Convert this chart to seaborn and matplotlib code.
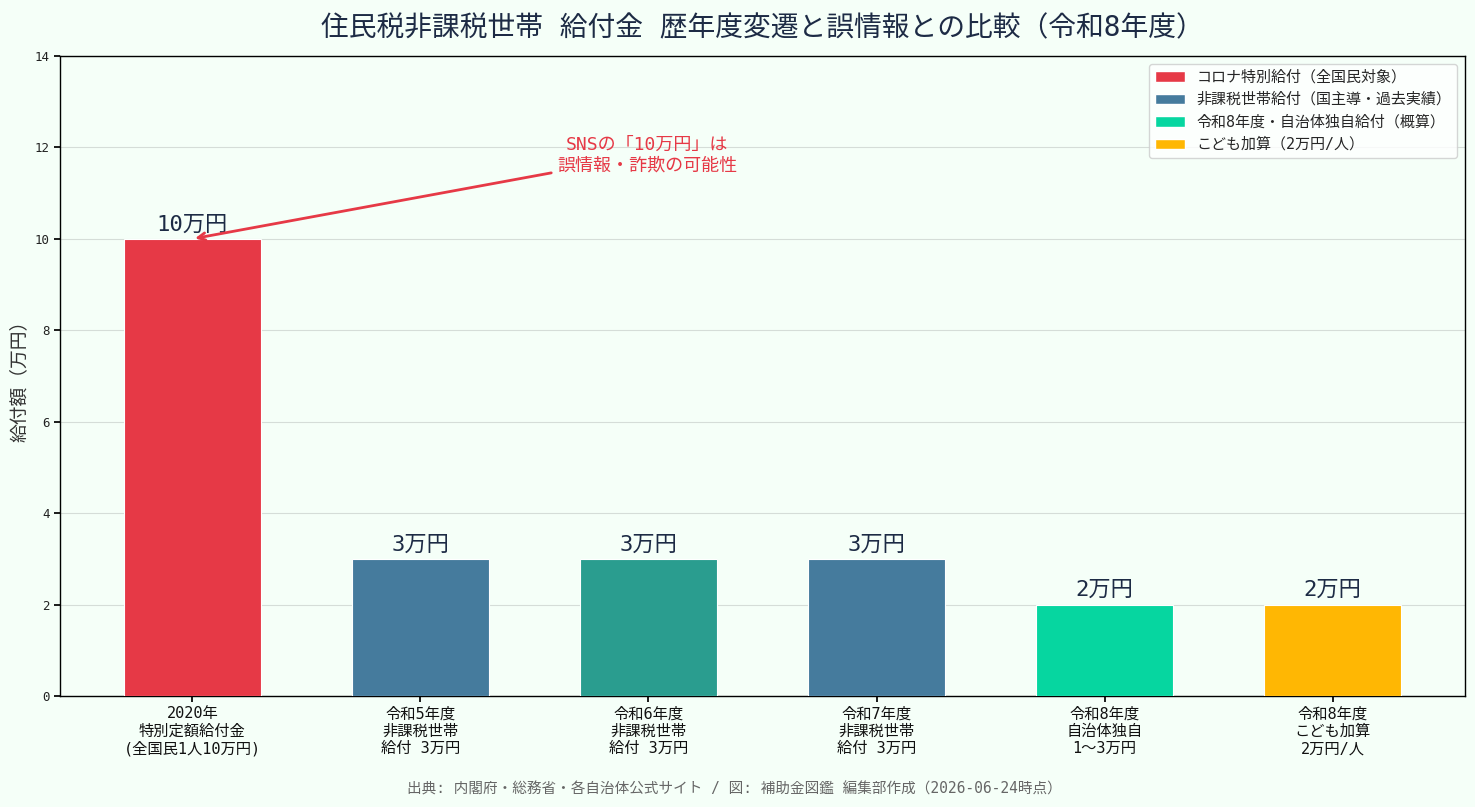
import matplotlib
matplotlib.use("Agg")
import matplotlib.pyplot as plt
import seaborn as sns
import pandas as pd
from matplotlib.patches import Patch

categories = [
    "2020年\n特別定額給付金\n(全国民1人10万円)",
    "令和5年度\n非課税世帯\n給付 3万円",
    "令和6年度\n非課税世帯\n給付 3万円",
    "令和7年度\n非課税世帯\n給付 3万円",
    "令和8年度\n自治体独自\n1〜3万円",
    "令和8年度\nこども加算\n2万円/人",
]
values = [10, 3, 3, 3, 2, 2]
value_labels = ["10万円", "3万円", "3万円", "3万円", "2万円", "2万円"]
bar_colors = ["#E63946", "#457B9D", "#2A9D8F", "#457B9D", "#06D6A0", "#FFB703"]
legend_labels = [
    "コロナ特別給付（全国民対象）",
    "非課税世帯給付（国主導・過去実績）",
    "令和8年度・自治体独自給付（概算）",
    "こども加算（2万円/人）",
]
legend_colors = ["#E63946", "#457B9D", "#06D6A0", "#FFB703"]

BG = "#F5FFF8"
DARK = "#1D2B45"

sns.set_theme(style="white")
plt.rcParams["font.family"] = ["DejaVu Sans Mono", "Noto Sans CJK JP", "DejaVu Sans"]

df = pd.DataFrame({"cat": categories, "val": values})

fig, ax = plt.subplots(figsize=(14.75, 8.07), dpi=100)
fig.patch.set_facecolor(BG)
ax.set_facecolor(BG)

sns.barplot(data=df, x="cat", y="val", hue="cat", palette=bar_colors,
            width=0.6, legend=False, ax=ax, saturation=1, zorder=3,
            edgecolor="white", linewidth=0.8)

for i, (v, lab) in enumerate(zip(values, value_labels)):
    ax.text(i, v + 0.1, lab, ha="center", va="bottom", fontsize=16, color=DARK, zorder=5)

ax.set_xlim(-0.58, len(values) - 1 + 0.58)
ax.set_ylim(0, 14)
ax.set_yticks(range(0, 15, 2))
ax.yaxis.grid(True, color="#D5DDD8", linewidth=0.8, zorder=0)
ax.set_axisbelow(True)
for s in ax.spines.values():
    s.set_color("black")
    s.set_linewidth(1.0)
ax.tick_params(axis="y", labelsize=9, left=True, length=4, color="black", labelcolor="#222222")
ax.tick_params(axis="x", labelsize=11, bottom=True, length=4, color="black", labelcolor="#111111")
ax.set_xlabel("")
ax.set_ylabel("給付額（万円）", fontsize=13.5, color="#333333")

ax.annotate("SNSの「10万円」は\n誤情報・詐欺の可能性", xy=(0, 10.0), xytext=(1.995, 11.83),
            ha="center", va="center", fontsize=13, color="#E63946",
            arrowprops=dict(arrowstyle="->", color="#E63946", lw=2), zorder=6)

handles = [Patch(facecolor=c, label=l) for c, l in zip(legend_colors, legend_labels)]
leg = ax.legend(handles=handles, loc="upper right", fontsize=10.8, frameon=True,
                facecolor="white", edgecolor="#CCCCCC")

ax.set_title("住民税非課税世帯 給付金 歴年度変遷と誤情報との比較（令和8年度）",
             fontsize=20, color=DARK, pad=14)

fig.text(0.498, 0.022, "出典: 内閣府・総務省・各自治体公式サイト / 図: 補助金図鑑 編集部作成（2026-06-24時点）",
         ha="center", va="center", fontsize=10.5, color="#666666")

fig.subplots_adjust(left=0.0407, right=0.9932, top=0.9306, bottom=0.1375)
fig.savefig("out.png", dpi=100, facecolor=BG)
